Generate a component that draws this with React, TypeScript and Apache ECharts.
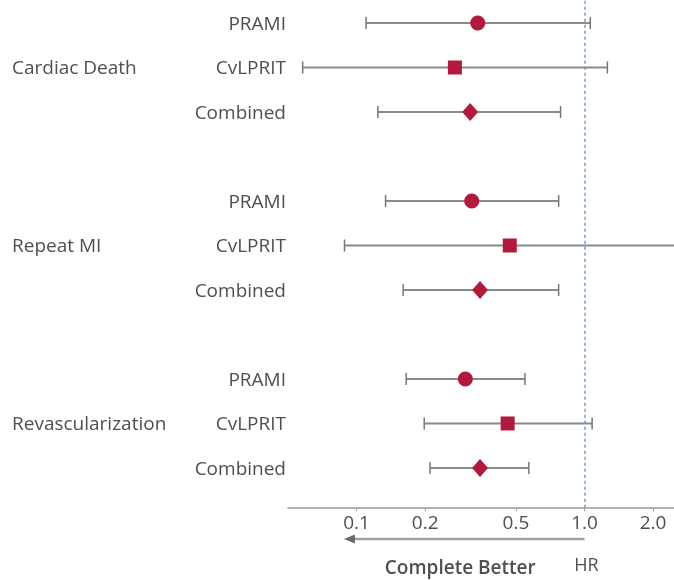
import React, { useEffect, useRef } from 'react';
import * as echarts from 'echarts';

const outcomes = ['Cardiac Death', 'Repeat MI', 'Revascularization'];
const trials = ['PRAMI', 'CvLPRIT', 'Combined'];
const trialSymbols = ['circle', 'rect', 'diamond'];
const trialSymbolSizes: any[] = [15, 14, [16, 18]];

const hrCardiacDeath = [0.34, 0.27, 0.315];
const lowerCardiacDeath = [0.11, 0.058, 0.124];
const upperCardiacDeath = [1.06, 1.26, 0.785];

const hrRepeatMI = [0.32, 0.47, 0.348];
const lowerRepeatMI = [0.134, 0.0885, 0.16];
const upperRepeatMI = [0.77, 2.9, 0.77];

const hrRevasc = [0.3, 0.46, 0.348];
const lowerRevasc = [0.165, 0.198, 0.21];
const upperRevasc = [0.548, 1.08, 0.57];

const tickValues = [0.1, 0.2, 0.5, 1, 2];
const tickLabels = ['0.1', '0.2', '0.5', '1.0', '2.0'];
const axisMinHR = 0.05;
const axisMaxHR = 2.47;
const referenceHR = 1;
const arrowEndHR = 0.088;
const arrowText = 'Complete Better';
const hrText = 'HR';

const hrTable = [hrCardiacDeath, hrRepeatMI, hrRevasc];
const lowerTable = [lowerCardiacDeath, lowerRepeatMI, lowerRevasc];
const upperTable = [upperCardiacDeath, upperRepeatMI, upperRevasc];

const FONT = 'Open Sans';
const FS = 19;
const TEXT = '#4f4f4f';
const MARK = '#b11a3d';
const BAR = '#8a8a8a';

const lg = (v: number) => Math.log10(v);

export default function App() {
  const ref = useRef<HTMLDivElement>(null);
  useEffect(() => {
    if (!ref.current) return;
    const chart = echarts.init(ref.current, null, { renderer: 'svg' });

    const rows: { y: number; trial: number; outcome: number }[] = [];
    outcomes.forEach((_, o) => trials.forEach((__, t) => rows.push({ y: o * 4 + t, trial: t, outcome: o })));
    const rowIdx = rows.map((r) => r.y);
    const outcomeIdx = outcomes.map((_, o) => o * 4 + 1);

    const barData = rows.map((r) => [lg(lowerTable[r.outcome][r.trial]), lg(upperTable[r.outcome][r.trial]), r.y]);

    const scatterSeries = trials.map((name, t) => ({
      type: 'scatter',
      name,
      symbol: trialSymbols[t],
      symbolSize: trialSymbolSizes[t],
      itemStyle: { color: MARK, opacity: 1 },
      z: 5,
      data: outcomes.map((_, o) => [lg(hrTable[o][t]), o * 4 + t]),
      markLine:
        t === 0
          ? {
              silent: true,
              symbol: ['none', 'none'],
              label: { show: false },
              lineStyle: { color: '#6b9cc9', type: [3, 3], width: 1.5 },
              data: [{ xAxis: lg(referenceHR) }],
            }
          : undefined,
    }));

    const yBase = {
      type: 'value',
      inverse: true,
      min: -0.5,
      max: 10.9,
      position: 'left',
      axisLine: { show: false },
      axisTick: { show: false },
      splitLine: { show: false },
    };

    chart.setOption({
      animation: false,
      grid: { left: 288, right: 0, top: 0.75, height: 507.25 },
      xAxis: {
        type: 'value',
        min: lg(axisMinHR),
        max: lg(axisMaxHR),
        splitLine: { show: false },
        axisLine: { show: true, onZero: false, lineStyle: { color: '#9a9a9a', width: 1.5 } },
        axisTick: {
          show: true,
          customValues: tickValues.map(lg),
          length: 3,
          lineStyle: { color: '#9a9a9a' },
        },
        axisLabel: {
          customValues: tickValues.map(lg),
          margin: 4,
          color: TEXT,
          fontFamily: FONT,
          fontSize: FS,
          formatter: (v: number) => {
            const i = tickValues.findIndex((t) => Math.abs(lg(t) - v) < 1e-6);
            return i >= 0 ? tickLabels[i] : '';
          },
        },
      },
      yAxis: [
        {
          ...yBase,
          axisLabel: {
            customValues: rowIdx,
            margin: 2,
            align: 'right',
            color: TEXT,
            fontFamily: FONT,
            fontSize: FS,
            formatter: (v: number) => {
              const r = rows.find((row) => row.y === Math.round(v));
              return r ? trials[r.trial] : '';
            },
          },
        },
        {
          ...yBase,
          axisLabel: {
            customValues: outcomeIdx,
            margin: 276,
            align: 'left',
            color: TEXT,
            fontFamily: FONT,
            fontSize: FS,
            formatter: (v: number) => {
              const o = outcomeIdx.indexOf(Math.round(v));
              return o >= 0 ? outcomes[o] : '';
            },
          },
        },
      ],
      series: [
        {
          type: 'custom',
          z: 2,
          clip: true,
          encode: { x: [0, 1], y: 2 },
          data: barData,
          renderItem: (params: any, api: any) => {
            const y = api.value(2);
            const a = api.coord([api.value(0), y]);
            const b = api.coord([api.value(1), y]);
            const cap = 6;
            const style = { stroke: BAR, lineWidth: 2 };
            return {
              type: 'group',
              children: [
                { type: 'line', shape: { x1: a[0], y1: a[1], x2: b[0], y2: b[1] }, style },
                { type: 'line', shape: { x1: a[0], y1: a[1] - cap, x2: a[0], y2: a[1] + cap }, style: { stroke: '#777', lineWidth: 1.5 } },
                { type: 'line', shape: { x1: b[0], y1: b[1] - cap, x2: b[0], y2: b[1] + cap }, style: { stroke: '#777', lineWidth: 1.5 } },
              ],
            };
          },
        },
        ...scatterSeries,
      ],
    });

    const xRef = chart.convertToPixel({ xAxisIndex: 0 }, lg(referenceHR)) as number;
    const xEnd = chart.convertToPixel({ xAxisIndex: 0 }, lg(arrowEndHR)) as number;
    const yArrow = 539;
    chart.setOption({
      graphic: [
        {
          type: 'line',
          shape: { x1: xRef, y1: yArrow, x2: xEnd + 8, y2: yArrow },
          style: { stroke: '#a0a0a0', lineWidth: 2.5 },
        },
        {
          type: 'polygon',
          shape: { points: [[xEnd, yArrow], [xEnd + 11, yArrow - 4.5], [xEnd + 11, yArrow + 4.5]] },
          style: { fill: '#6a6a6a' },
        },
        {
          type: 'text',
          x: (xRef + xEnd) / 2 - 4,
          y: 567,
          style: {
            text: arrowText,
            fill: TEXT,
            font: `600 ${FS}px "${FONT}"`,
            align: 'center',
            verticalAlign: 'middle',
          },
        },
        {
          type: 'text',
          x: xRef + 2,
          y: 564,
          style: {
            text: hrText,
            fill: TEXT,
            font: `${FS - 1}px "${FONT}"`,
            align: 'center',
            verticalAlign: 'middle',
          },
        },
      ],
    });

    return () => chart.dispose();
  }, []);
  return <div ref={ref} style={{ position: 'fixed', left: 0, top: 0, width: 674, height: 580 }} />;
}
